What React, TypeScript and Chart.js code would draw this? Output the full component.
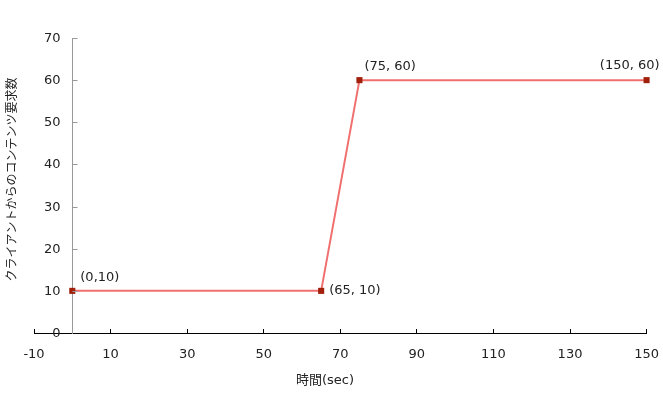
import React, { useEffect, useRef } from "react";
import { Chart, registerables } from "chart.js";

Chart.register(...registerables);

const xValues = [0, 65, 75, 150];
const yValues = [10, 10, 60, 60];
const pointLabels = ["(0,10)", "(65, 10)", "(75, 60)", "(150, 60)"];
const xTicks = [-10, 10, 30, 50, 70, 90, 110, 130, 150];
const yTicks = [0, 10, 20, 30, 40, 50, 60, 70];
const xTitle = "時間(sec)";
const yTitle = "クライアントからのコンテンツ要求数";

const FONT = "'DejaVu Sans', 'Noto Sans CJK JP', sans-serif";
const TEXT_COLOR = "#222222";
const Y_AXIS_COLOR = "#999999";

// label placement relative to each point (style only)
const labelPlacement = [
  { dx: 8, dy: -13, align: "left" },
  { dx: 8, dy: 0, align: "left" },
  { dx: 5, dy: -14, align: "left" },
  { dx: 13, dy: -15, align: "right" },
];

const annotatePlugin = {
  id: "annotate",
  afterDraw(chart: any) {
    const ctx = chart.ctx;
    const meta = chart.getDatasetMeta(0);
    const xs = chart.scales.x;
    const ys = chart.scales.y;
    const area = chart.chartArea;
    ctx.save();

    // y axis ticks and labels (axis crosses at x = 0)
    const axisX = Math.round(xs.getPixelForValue(0)) + 0.5;
    ctx.strokeStyle = Y_AXIS_COLOR;
    ctx.lineWidth = 1;
    ctx.fillStyle = TEXT_COLOR;
    ctx.font = `13px ${FONT}`;
    ctx.textAlign = "right";
    ctx.textBaseline = "middle";
    yTicks.forEach((v) => {
      const py = Math.round(ys.getPixelForValue(v)) + 0.5;
      if (v !== 0) {
        ctx.beginPath();
        ctx.moveTo(axisX, py);
        ctx.lineTo(axisX + 5, py);
        ctx.stroke();
      }
      ctx.fillText(String(v), axisX - 12, py);
    });

    // point labels
    ctx.font = `13px ${FONT}`;
    meta.data.forEach((pt: any, i: number) => {
      const p = labelPlacement[i];
      ctx.textAlign = p.align;
      ctx.fillText(pointLabels[i], pt.x + p.dx, pt.y + p.dy);
    });

    // x title
    ctx.font = `13px ${FONT}`;
    ctx.textAlign = "center";
    ctx.fillText(xTitle, area.left + (area.right - area.left) * 0.475, chart.height - 26);

    // y title
    ctx.font = `12px ${FONT}`;
    ctx.translate(13, (area.top + area.bottom) / 2 - 6);
    ctx.rotate(-Math.PI / 2);
    ctx.fillText(yTitle, 0, 0);
    ctx.restore();
  },
};

export default function App() {
  const canvasRef = useRef<HTMLCanvasElement | null>(null);

  useEffect(() => {
    const canvas = canvasRef.current;
    if (!canvas) return;
    const chart = new Chart(canvas, {
      type: "line",
      data: {
        datasets: [
          {
            data: xValues.map((x, i) => ({ x, y: yValues[i] })),
            borderColor: "#f07070",
            borderWidth: 2,
            pointStyle: "rect",
            pointRadius: 4.3,
            pointBackgroundColor: "#a0200c",
            pointBorderColor: "#a0200c",
            pointBorderWidth: 0,
            tension: 0,
            clip: false as any,
          },
        ],
      },
      options: {
        animation: false,
        responsive: false,
        events: [],
        layout: { padding: { top: 38, left: 34, right: 15, bottom: 0 } },
        plugins: {
          legend: { display: false },
          tooltip: { enabled: false },
          title: { display: false },
        },
        scales: {
          x: {
            type: "linear",
            position: "bottom",
            min: -10,
            max: 150,
            afterBuildTicks: (scale: any) => {
              scale.ticks = xTicks.map((v) => ({ value: v }));
            },
            afterFit: (scale: any) => {
              scale.height = 74;
            },
            grid: {
              display: true,
              drawOnChartArea: false,
              drawTicks: true,
              tickLength: -4,
              color: "#000000",
              lineWidth: 1,
            },
            border: { display: true, color: "#000000", width: 1 },
            ticks: {
              padding: 4,
              maxRotation: 0,
              autoSkip: false,
              color: TEXT_COLOR,
              font: { family: FONT, size: 13, lineHeight: "44px" as any },
            },
          },
          y: {
            type: "linear",
            position: { x: 0 } as any,
            min: 0,
            max: 70,
            afterBuildTicks: (scale: any) => {
              scale.ticks = yTicks.map((v) => ({ value: v }));
            },
            grid: { display: false },
            border: { display: true, color: Y_AXIS_COLOR, width: 1 },
            ticks: { display: false },
          },
        },
      },
      plugins: [annotatePlugin],
    });
    return () => chart.destroy();
  }, []);

  return (
    <div style={{ position: "fixed", left: 0, top: 0, width: 663, height: 407, background: "#ffffff" }}>
      <canvas ref={canvasRef} width={663} height={407} style={{ width: 663, height: 407, display: "block" }} />
    </div>
  );
}
